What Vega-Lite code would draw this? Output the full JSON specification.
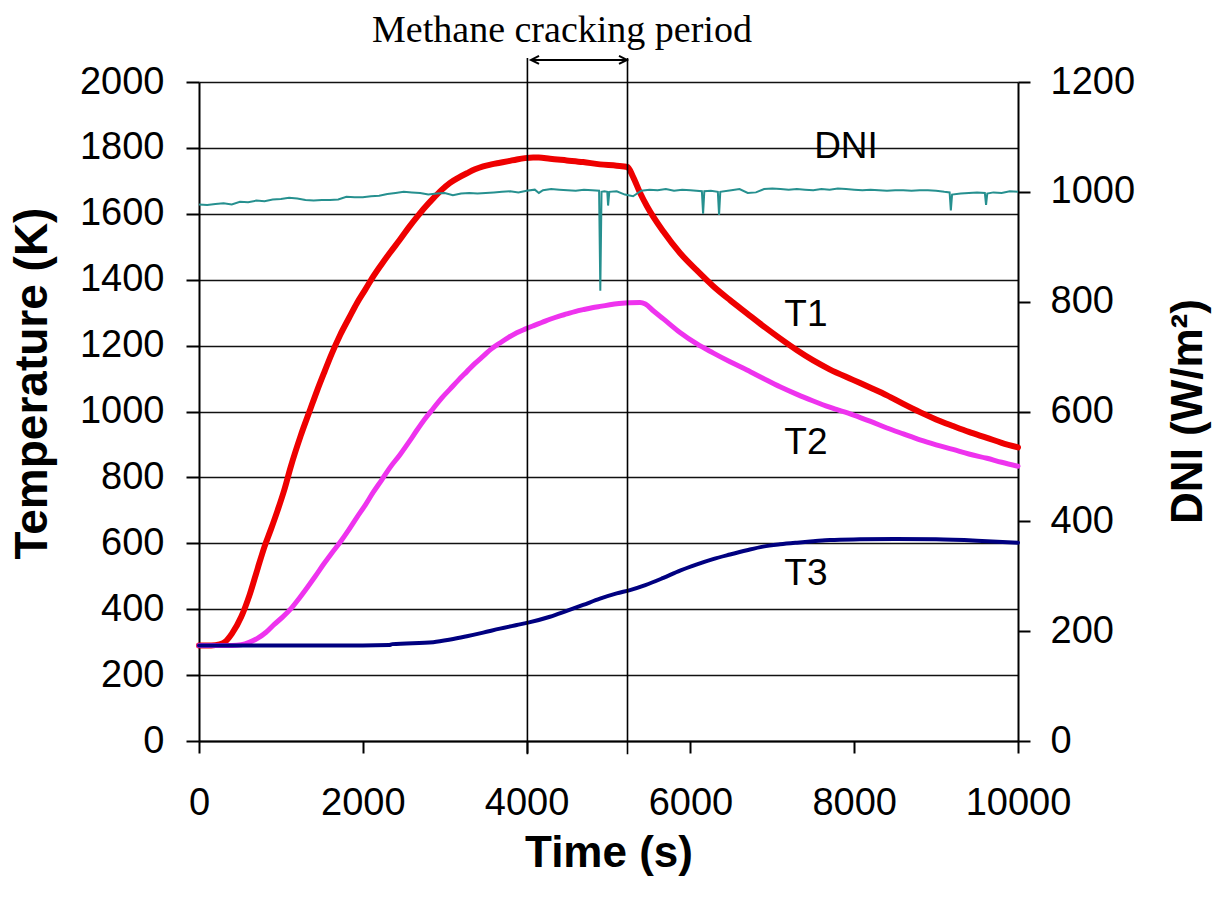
{
  "$schema": "https://vega.github.io/schema/vega-lite/v6.json",
  "width": 819,
  "height": 659,
  "autosize": {"type": "none"},
  "padding": {"left": 199, "top": 82, "right": 204, "bottom": 161},
  "background": "white",
  "config": {
    "view": {"stroke": null},
    "axis": {
      "domainColor": "#000000",
      "domainWidth": 2,
      "tickColor": "#000000",
      "tickWidth": 2,
      "labelFont": "Liberation Sans",
      "labelFontSize": 38,
      "labelColor": "#000000",
      "labelFlush": false,
      "labelOverlap": false,
      "titleFont": "Liberation Sans",
      "titleFontSize": 44,
      "titleFontWeight": "bold",
      "titleColor": "#000000",
      "format": "d"
    }
  },
  "datasets": {
    "temp": [
      {"s": "T1", "t": 0, "T": 290}, {"s": "T1", "t": 150, "T": 290}, {"s": "T1", "t": 250, "T": 293}, {"s": "T1", "t": 314, "T": 300},
      {"s": "T1", "t": 400, "T": 325}, {"s": "T1", "t": 516, "T": 377}, {"s": "T1", "t": 620, "T": 445}, {"s": "T1", "t": 718, "T": 525},
      {"s": "T1", "t": 800, "T": 590}, {"s": "T1", "t": 879, "T": 643}, {"s": "T1", "t": 960, "T": 700}, {"s": "T1", "t": 1040, "T": 761},
      {"s": "T1", "t": 1120, "T": 832}, {"s": "T1", "t": 1241, "T": 926}, {"s": "T1", "t": 1362, "T": 1009}, {"s": "T1", "t": 1440, "T": 1062},
      {"s": "T1", "t": 1523, "T": 1115}, {"s": "T1", "t": 1620, "T": 1175}, {"s": "T1", "t": 1725, "T": 1233}, {"s": "T1", "t": 1830, "T": 1283},
      {"s": "T1", "t": 1926, "T": 1328}, {"s": "T1", "t": 2030, "T": 1370}, {"s": "T1", "t": 2128, "T": 1410}, {"s": "T1", "t": 2230, "T": 1447},
      {"s": "T1", "t": 2329, "T": 1481}, {"s": "T1", "t": 2454, "T": 1522}, {"s": "T1", "t": 2571, "T": 1562}, {"s": "T1", "t": 2660, "T": 1590},
      {"s": "T1", "t": 2760, "T": 1620}, {"s": "T1", "t": 2860, "T": 1647}, {"s": "T1", "t": 2960, "T": 1672}, {"s": "T1", "t": 3065, "T": 1694},
      {"s": "T1", "t": 3170, "T": 1710}, {"s": "T1", "t": 3270, "T": 1723}, {"s": "T1", "t": 3370, "T": 1735}, {"s": "T1", "t": 3470, "T": 1744},
      {"s": "T1", "t": 3570, "T": 1750}, {"s": "T1", "t": 3675, "T": 1755}, {"s": "T1", "t": 3780, "T": 1760}, {"s": "T1", "t": 3880, "T": 1765},
      {"s": "T1", "t": 3980, "T": 1769}, {"s": "T1", "t": 4080, "T": 1771}, {"s": "T1", "t": 4150, "T": 1771}, {"s": "T1", "t": 4285, "T": 1767},
      {"s": "T1", "t": 4490, "T": 1762}, {"s": "T1", "t": 4690, "T": 1757}, {"s": "T1", "t": 4896, "T": 1750}, {"s": "T1", "t": 5100, "T": 1746},
      {"s": "T1", "t": 5232, "T": 1742}, {"s": "T1", "t": 5300, "T": 1712}, {"s": "T1", "t": 5385, "T": 1664}, {"s": "T1", "t": 5470, "T": 1623},
      {"s": "T1", "t": 5670, "T": 1546}, {"s": "T1", "t": 5873, "T": 1481}, {"s": "T1", "t": 6080, "T": 1428}, {"s": "T1", "t": 6276, "T": 1381},
      {"s": "T1", "t": 6484, "T": 1338}, {"s": "T1", "t": 6690, "T": 1298}, {"s": "T1", "t": 6886, "T": 1260}, {"s": "T1", "t": 7094, "T": 1222},
      {"s": "T1", "t": 7302, "T": 1186}, {"s": "T1", "t": 7500, "T": 1155}, {"s": "T1", "t": 7700, "T": 1128}, {"s": "T1", "t": 7985, "T": 1096},
      {"s": "T1", "t": 8200, "T": 1072}, {"s": "T1", "t": 8400, "T": 1049}, {"s": "T1", "t": 8600, "T": 1023}, {"s": "T1", "t": 8803, "T": 998},
      {"s": "T1", "t": 9000, "T": 976}, {"s": "T1", "t": 9206, "T": 956}, {"s": "T1", "t": 9400, "T": 938}, {"s": "T1", "t": 9621, "T": 920},
      {"s": "T1", "t": 9800, "T": 905}, {"s": "T1", "t": 10000, "T": 891},

      {"s": "T2", "t": 0, "T": 290}, {"s": "T2", "t": 400, "T": 290}, {"s": "T2", "t": 516, "T": 292}, {"s": "T2", "t": 620, "T": 300},
      {"s": "T2", "t": 718, "T": 312}, {"s": "T2", "t": 819, "T": 330}, {"s": "T2", "t": 919, "T": 354}, {"s": "T2", "t": 1020, "T": 376},
      {"s": "T2", "t": 1120, "T": 401}, {"s": "T2", "t": 1220, "T": 432}, {"s": "T2", "t": 1322, "T": 466}, {"s": "T2", "t": 1420, "T": 500},
      {"s": "T2", "t": 1523, "T": 537}, {"s": "T2", "t": 1620, "T": 570}, {"s": "T2", "t": 1725, "T": 604}, {"s": "T2", "t": 1826, "T": 640},
      {"s": "T2", "t": 1926, "T": 678}, {"s": "T2", "t": 2030, "T": 716}, {"s": "T2", "t": 2128, "T": 755}, {"s": "T2", "t": 2230, "T": 792},
      {"s": "T2", "t": 2329, "T": 829}, {"s": "T2", "t": 2454, "T": 869}, {"s": "T2", "t": 2571, "T": 910}, {"s": "T2", "t": 2660, "T": 943},
      {"s": "T2", "t": 2760, "T": 978}, {"s": "T2", "t": 2860, "T": 1009}, {"s": "T2", "t": 2960, "T": 1040}, {"s": "T2", "t": 3065, "T": 1068},
      {"s": "T2", "t": 3170, "T": 1096}, {"s": "T2", "t": 3270, "T": 1121}, {"s": "T2", "t": 3370, "T": 1146}, {"s": "T2", "t": 3470, "T": 1168},
      {"s": "T2", "t": 3570, "T": 1190}, {"s": "T2", "t": 3675, "T": 1208}, {"s": "T2", "t": 3780, "T": 1225}, {"s": "T2", "t": 3880, "T": 1239},
      {"s": "T2", "t": 3980, "T": 1250}, {"s": "T2", "t": 4080, "T": 1260}, {"s": "T2", "t": 4185, "T": 1270}, {"s": "T2", "t": 4285, "T": 1280},
      {"s": "T2", "t": 4390, "T": 1289}, {"s": "T2", "t": 4490, "T": 1296}, {"s": "T2", "t": 4590, "T": 1303}, {"s": "T2", "t": 4690, "T": 1309},
      {"s": "T2", "t": 4800, "T": 1315}, {"s": "T2", "t": 4896, "T": 1319}, {"s": "T2", "t": 5000, "T": 1323}, {"s": "T2", "t": 5100, "T": 1327},
      {"s": "T2", "t": 5262, "T": 1330}, {"s": "T2", "t": 5385, "T": 1331}, {"s": "T2", "t": 5450, "T": 1326}, {"s": "T2", "t": 5550, "T": 1305},
      {"s": "T2", "t": 5670, "T": 1281}, {"s": "T2", "t": 5873, "T": 1240}, {"s": "T2", "t": 6080, "T": 1205}, {"s": "T2", "t": 6276, "T": 1178},
      {"s": "T2", "t": 6484, "T": 1151}, {"s": "T2", "t": 6690, "T": 1126}, {"s": "T2", "t": 6886, "T": 1101}, {"s": "T2", "t": 7094, "T": 1075},
      {"s": "T2", "t": 7302, "T": 1052}, {"s": "T2", "t": 7500, "T": 1032}, {"s": "T2", "t": 7700, "T": 1013}, {"s": "T2", "t": 7985, "T": 990},
      {"s": "T2", "t": 8200, "T": 970}, {"s": "T2", "t": 8400, "T": 950}, {"s": "T2", "t": 8600, "T": 932}, {"s": "T2", "t": 8803, "T": 914},
      {"s": "T2", "t": 9000, "T": 899}, {"s": "T2", "t": 9206, "T": 885}, {"s": "T2", "t": 9400, "T": 871}, {"s": "T2", "t": 9621, "T": 858},
      {"s": "T2", "t": 9800, "T": 846}, {"s": "T2", "t": 10000, "T": 834},

      {"s": "T3", "t": 0, "T": 290}, {"s": "T3", "t": 1000, "T": 290}, {"s": "T3", "t": 2000, "T": 290}, {"s": "T3", "t": 2320, "T": 291},
      {"s": "T3", "t": 2360, "T": 294}, {"s": "T3", "t": 2860, "T": 300}, {"s": "T3", "t": 3070, "T": 308}, {"s": "T3", "t": 3270, "T": 318},
      {"s": "T3", "t": 3470, "T": 329}, {"s": "T3", "t": 3675, "T": 341}, {"s": "T3", "t": 3880, "T": 352}, {"s": "T3", "t": 4030, "T": 360},
      {"s": "T3", "t": 4285, "T": 377}, {"s": "T3", "t": 4490, "T": 395}, {"s": "T3", "t": 4690, "T": 413}, {"s": "T3", "t": 4896, "T": 432},
      {"s": "T3", "t": 5100, "T": 448}, {"s": "T3", "t": 5262, "T": 458}, {"s": "T3", "t": 5450, "T": 473}, {"s": "T3", "t": 5670, "T": 495},
      {"s": "T3", "t": 5873, "T": 517}, {"s": "T3", "t": 6080, "T": 536}, {"s": "T3", "t": 6276, "T": 552}, {"s": "T3", "t": 6484, "T": 566},
      {"s": "T3", "t": 6690, "T": 579}, {"s": "T3", "t": 6886, "T": 590}, {"s": "T3", "t": 7094, "T": 597}, {"s": "T3", "t": 7302, "T": 602},
      {"s": "T3", "t": 7500, "T": 606}, {"s": "T3", "t": 7705, "T": 610}, {"s": "T3", "t": 8070, "T": 612}, {"s": "T3", "t": 8500, "T": 613},
      {"s": "T3", "t": 9000, "T": 612}, {"s": "T3", "t": 9500, "T": 608}, {"s": "T3", "t": 10000, "T": 602}
    ],
    "dni": [
      {"t": 0, "DNI": 977}, {"t": 100, "DNI": 976}, {"t": 200, "DNI": 978}, {"t": 300, "DNI": 979}, {"t": 400, "DNI": 977},
      {"t": 500, "DNI": 982}, {"t": 600, "DNI": 981}, {"t": 700, "DNI": 984}, {"t": 800, "DNI": 983}, {"t": 900, "DNI": 986},
      {"t": 1000, "DNI": 987}, {"t": 1100, "DNI": 989}, {"t": 1200, "DNI": 988}, {"t": 1300, "DNI": 985}, {"t": 1400, "DNI": 984},
      {"t": 1500, "DNI": 985}, {"t": 1600, "DNI": 985}, {"t": 1700, "DNI": 986}, {"t": 1800, "DNI": 991}, {"t": 1900, "DNI": 990},
      {"t": 2000, "DNI": 990}, {"t": 2100, "DNI": 992}, {"t": 2200, "DNI": 993}, {"t": 2300, "DNI": 996}, {"t": 2400, "DNI": 998},
      {"t": 2500, "DNI": 1000}, {"t": 2600, "DNI": 999}, {"t": 2700, "DNI": 998}, {"t": 2800, "DNI": 995}, {"t": 2900, "DNI": 997},
      {"t": 3000, "DNI": 998}, {"t": 3100, "DNI": 994}, {"t": 3200, "DNI": 997}, {"t": 3300, "DNI": 998}, {"t": 3400, "DNI": 997},
      {"t": 3500, "DNI": 998}, {"t": 3600, "DNI": 999}, {"t": 3700, "DNI": 1000}, {"t": 3800, "DNI": 1001}, {"t": 3900, "DNI": 999},
      {"t": 4000, "DNI": 1002}, {"t": 4100, "DNI": 1004}, {"t": 4150, "DNI": 998}, {"t": 4200, "DNI": 1003}, {"t": 4300, "DNI": 1005},
      {"t": 4400, "DNI": 1004}, {"t": 4500, "DNI": 1003}, {"t": 4600, "DNI": 1002}, {"t": 4700, "DNI": 1004}, {"t": 4800, "DNI": 1003},
      {"t": 4885, "DNI": 1002}, {"t": 4900, "DNI": 820}, {"t": 4915, "DNI": 1000}, {"t": 4950, "DNI": 1001}, {"t": 4985, "DNI": 1000},
      {"t": 4995, "DNI": 975}, {"t": 5010, "DNI": 1000}, {"t": 5100, "DNI": 1001}, {"t": 5200, "DNI": 995}, {"t": 5300, "DNI": 992},
      {"t": 5400, "DNI": 1002}, {"t": 5500, "DNI": 1004}, {"t": 5600, "DNI": 1003}, {"t": 5700, "DNI": 1005}, {"t": 5800, "DNI": 1002},
      {"t": 5900, "DNI": 1004}, {"t": 6000, "DNI": 1003}, {"t": 6140, "DNI": 1001}, {"t": 6155, "DNI": 960}, {"t": 6170, "DNI": 1001},
      {"t": 6250, "DNI": 1002}, {"t": 6335, "DNI": 1000}, {"t": 6350, "DNI": 958}, {"t": 6365, "DNI": 1000}, {"t": 6500, "DNI": 1003},
      {"t": 6600, "DNI": 1005}, {"t": 6700, "DNI": 998}, {"t": 6800, "DNI": 999}, {"t": 6900, "DNI": 1005}, {"t": 7000, "DNI": 1006},
      {"t": 7100, "DNI": 1005}, {"t": 7200, "DNI": 1004}, {"t": 7300, "DNI": 1005}, {"t": 7400, "DNI": 1004}, {"t": 7500, "DNI": 1003},
      {"t": 7600, "DNI": 1005}, {"t": 7700, "DNI": 1004}, {"t": 7800, "DNI": 1006}, {"t": 7900, "DNI": 1005}, {"t": 8000, "DNI": 1004},
      {"t": 8100, "DNI": 1003}, {"t": 8200, "DNI": 1004}, {"t": 8300, "DNI": 1003}, {"t": 8400, "DNI": 1002}, {"t": 8500, "DNI": 1003},
      {"t": 8600, "DNI": 1003}, {"t": 8700, "DNI": 1002}, {"t": 8800, "DNI": 1003}, {"t": 8900, "DNI": 1003}, {"t": 9000, "DNI": 1002},
      {"t": 9100, "DNI": 1000}, {"t": 9165, "DNI": 999}, {"t": 9180, "DNI": 966}, {"t": 9195, "DNI": 995}, {"t": 9300, "DNI": 997},
      {"t": 9400, "DNI": 998}, {"t": 9500, "DNI": 999}, {"t": 9595, "DNI": 998}, {"t": 9610, "DNI": 976}, {"t": 9625, "DNI": 997},
      {"t": 9700, "DNI": 999}, {"t": 9800, "DNI": 998}, {"t": 9900, "DNI": 1001}, {"t": 10000, "DNI": 1000}
    ],
    "labels": [
      {"label": "DNI", "t": 7900, "T": 1803},
      {"label": "T1", "t": 7410, "T": 1292},
      {"label": "T2", "t": 7410, "T": 905},
      {"label": "T3", "t": 7410, "T": 507}
    ],
    "period": [
      {"t": 4010, "lo": -40, "hi": 2073},
      {"t": 5232, "lo": -40, "hi": 2073}
    ],
    "arrow": [
      {"t0": 4054, "t1": 5226, "T": 2067}
    ],
    "note": [
      {"text": "Methane cracking period", "t": 4432, "T": 2121}
    ]
  },
  "layer": [
    {
      "layer": [
        {
          "data": {"name": "temp"},
          "mark": {"type": "line", "strokeCap": "round", "strokeJoin": "round", "interpolate": "monotone"},
          "encoding": {
            "x": {
              "field": "t", "type": "quantitative",
              "scale": {"domain": [0, 10000], "nice": false},
              "title": "Time (s)",
              "axis": {
                "values": [0, 2000, 4000, 6000, 8000, 10000],
                "grid": false, "tickSize": 12, "labelPadding": 31, "titlePadding": 9
              }
            },
            "y": {
              "field": "T", "type": "quantitative",
              "scale": {"domain": [0, 2000], "nice": false},
              "title": "Temperature (K)",
              "axis": {
                "orient": "left",
                "values": [0, 200, 400, 600, 800, 1000, 1200, 1400, 1600, 1800, 2000],
                "grid": true, "gridColor": "#111111", "gridWidth": 1.6,
                "tickSize": 13, "labelPadding": 22,
                "titleFontSize": 46,
                "titleAngle": -90, "titleBaseline": "bottom", "titleAlign": "center",
                "titleX": -143, "titleY": 301
              }
            },
            "color": {
              "field": "s", "type": "nominal",
              "scale": {"domain": ["T1", "T2", "T3"], "range": ["#ee0000", "#ee33ee", "#000080"]},
              "legend": null
            },
            "strokeWidth": {
              "field": "s", "type": "nominal",
              "scale": {"domain": ["T1", "T2", "T3"], "range": [6, 4, 5]},
              "legend": null
            }
          }
        },
        {
          "data": {"name": "labels"},
          "mark": {"type": "text", "font": "Liberation Sans", "fontSize": 37, "color": "#000000", "align": "center", "baseline": "middle"},
          "encoding": {
            "x": {"field": "t", "type": "quantitative", "scale": {"domain": [0, 10000], "nice": false}, "title": "Time (s)"},
            "y": {"field": "T", "type": "quantitative", "scale": {"domain": [0, 2000], "nice": false}, "title": "Temperature (K)"},
            "text": {"field": "label"}
          }
        },
        {
          "data": {"name": "period"},
          "mark": {"type": "rule", "color": "#000000", "strokeWidth": 1.6},
          "encoding": {
            "x": {"field": "t", "type": "quantitative", "scale": {"domain": [0, 10000], "nice": false}, "title": "Time (s)"},
            "y": {"field": "lo", "type": "quantitative", "scale": {"domain": [0, 2000], "nice": false}, "title": "Temperature (K)"},
            "y2": {"field": "hi"}
          }
        },
        {
          "data": {"name": "arrow"},
          "mark": {"type": "rule", "color": "#000000", "strokeWidth": 2},
          "encoding": {
            "x": {"field": "t0", "type": "quantitative", "scale": {"domain": [0, 10000], "nice": false}, "title": "Time (s)"},
            "x2": {"field": "t1"},
            "y": {"field": "T", "type": "quantitative", "scale": {"domain": [0, 2000], "nice": false}, "title": "Temperature (K)"}
          }
        },
        {
          "data": {"name": "arrow"},
          "mark": {"type": "point", "shape": "M 2 -1 L 0 0 L 2 1", "filled": false, "size": 64, "color": "#000000", "strokeWidth": 2, "opacity": 1},
          "encoding": {
            "x": {"field": "t0", "type": "quantitative", "scale": {"domain": [0, 10000], "nice": false}, "title": "Time (s)"},
            "y": {"field": "T", "type": "quantitative", "scale": {"domain": [0, 2000], "nice": false}, "title": "Temperature (K)"}
          }
        },
        {
          "data": {"name": "arrow"},
          "mark": {"type": "point", "shape": "M -2 -1 L 0 0 L -2 1", "filled": false, "size": 64, "color": "#000000", "strokeWidth": 2, "opacity": 1},
          "encoding": {
            "x": {"field": "t1", "type": "quantitative", "scale": {"domain": [0, 10000], "nice": false}, "title": "Time (s)"},
            "y": {"field": "T", "type": "quantitative", "scale": {"domain": [0, 2000], "nice": false}, "title": "Temperature (K)"}
          }
        },
        {
          "data": {"name": "note"},
          "mark": {"type": "text", "font": "Liberation Serif", "fontSize": 38, "color": "#000000", "align": "center", "baseline": "alphabetic"},
          "encoding": {
            "x": {"field": "t", "type": "quantitative", "scale": {"domain": [0, 10000], "nice": false}, "title": "Time (s)"},
            "y": {"field": "T", "type": "quantitative", "scale": {"domain": [0, 2000], "nice": false}, "title": "Temperature (K)"},
            "text": {"field": "text"}
          }
        }
      ]
    },
    {
      "data": {"name": "dni"},
      "mark": {"type": "line", "color": "#26908f", "strokeWidth": 2},
      "encoding": {
        "x": {"field": "t", "type": "quantitative", "scale": {"domain": [0, 10000], "nice": false}, "title": "Time (s)"},
        "y": {
          "field": "DNI", "type": "quantitative",
          "scale": {"domain": [0, 1200], "nice": false},
          "title": "DNI (W/m²)",
          "axis": {
            "orient": "right",
            "values": [0, 200, 400, 600, 800, 1000, 1200],
            "grid": false, "tickSize": 12, "labelPadding": 20,
            "titleAngle": -90, "titleBaseline": "top", "titleAlign": "center",
            "titleX": 148, "titleY": 329
          }
        }
      }
    }
  ],
  "resolve": {"scale": {"y": "independent"}}
}
